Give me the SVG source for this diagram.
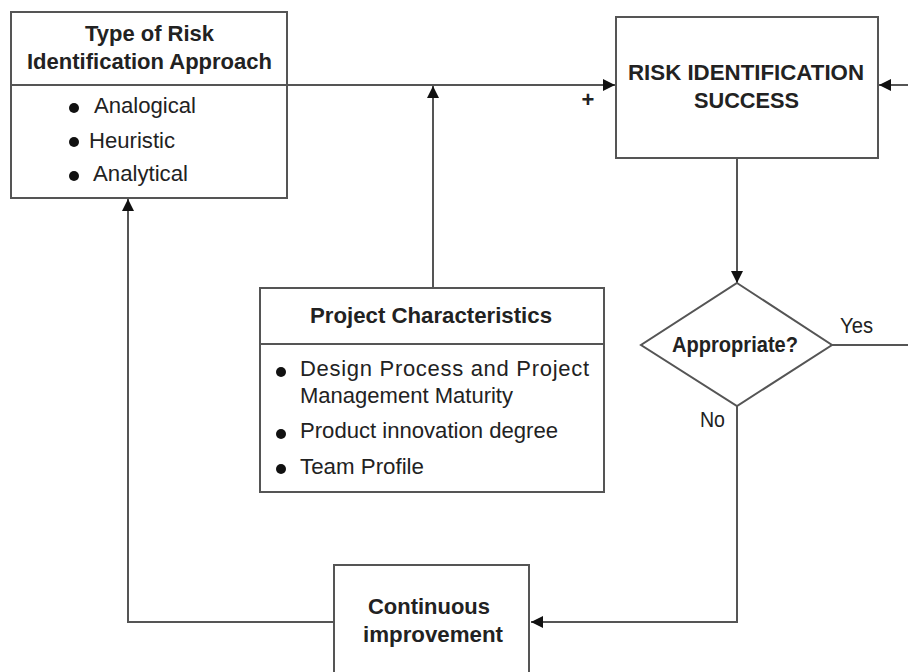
<svg xmlns="http://www.w3.org/2000/svg" width="908" height="672" viewBox="0 0 908 672">
<defs>
<style>
.box{fill:#fff;stroke:#555;stroke-width:2}
.ln{fill:none;stroke:#555;stroke-width:2}
.t{font-family:"Liberation Sans",Arial,sans-serif;font-size:22px;fill:#222}
.b{font-weight:bold}
.dot{fill:#111}
</style>
<marker id="ah" viewBox="0 0 10 10" refX="10" refY="5" markerWidth="12" markerHeight="12" markerUnits="userSpaceOnUse" orient="auto">
<path d="M0,0 L10,5 L0,10 z" fill="#111"/>
</marker>
</defs>
<rect width="908" height="672" fill="#fff"/>
<g id="connectors">
<line class="ln" x1="287" y1="85" x2="615" y2="85" marker-end="url(#ah)"/>
<line class="ln" x1="908" y1="85" x2="879" y2="85" marker-end="url(#ah)"/>
<line class="ln" x1="433" y1="288" x2="433" y2="86" marker-end="url(#ah)"/>
<line class="ln" x1="737" y1="158" x2="737" y2="283" marker-end="url(#ah)"/>
<line class="ln" x1="832" y1="345" x2="908" y2="345"/>
<polyline class="ln" points="737,406 737,622 531,622" marker-end="url(#ah)"/>
<polyline class="ln" points="334,622 128,622 128,199" marker-end="url(#ah)"/>
<text class="t b" x="588" y="107" text-anchor="middle" font-size="20">+</text>
<text class="t" x="840" y="333" font-size="20" textLength="33" lengthAdjust="spacingAndGlyphs">Yes</text>
<text class="t" x="700" y="427" font-size="20" textLength="25" lengthAdjust="spacingAndGlyphs">No</text>
</g>
<g id="type-box">
<rect class="box" x="11" y="12" width="276" height="186"/>
<line class="ln" x1="11" y1="85" x2="287" y2="85"/>
<text class="t b" x="85" y="41" textLength="129" lengthAdjust="spacingAndGlyphs">Type of Risk</text>
<text class="t b" x="27" y="69" textLength="245" lengthAdjust="spacingAndGlyphs">Identification Approach</text>
<circle class="dot" cx="74" cy="108" r="5"/>
<text class="t" x="94" y="113" textLength="102" lengthAdjust="spacingAndGlyphs">Analogical</text>
<circle class="dot" cx="74" cy="142" r="5"/>
<text class="t" x="89" y="148" textLength="86" lengthAdjust="spacingAndGlyphs">Heuristic</text>
<circle class="dot" cx="74" cy="176" r="5"/>
<text class="t" x="93" y="181" textLength="95" lengthAdjust="spacingAndGlyphs">Analytical</text>
</g>
<g id="risk-success">
<rect class="box" x="616" y="17" width="262" height="141"/>
<text class="t b" x="628" y="80" textLength="236" lengthAdjust="spacingAndGlyphs">RISK IDENTIFICATION</text>
<text class="t b" x="694" y="108" textLength="105" lengthAdjust="spacingAndGlyphs">SUCCESS</text>
</g>
<g id="project-characteristics">
<rect class="box" x="260" y="288" width="344" height="204"/>
<line class="ln" x1="260" y1="344" x2="604" y2="344"/>
<text class="t b" x="310" y="323" textLength="242" lengthAdjust="spacingAndGlyphs">Project Characteristics</text>
<circle class="dot" cx="281" cy="372" r="5"/>
<text class="t" x="300" y="376" textLength="289" lengthAdjust="spacing">Design Process and Project</text>
<text class="t" x="300" y="403" textLength="213" lengthAdjust="spacingAndGlyphs">Management Maturity</text>
<circle class="dot" cx="281" cy="434" r="5"/>
<text class="t" x="300" y="438" textLength="258" lengthAdjust="spacingAndGlyphs">Product innovation degree</text>
<circle class="dot" cx="281" cy="469" r="5"/>
<text class="t" x="300" y="474" textLength="124" lengthAdjust="spacingAndGlyphs">Team Profile</text>
</g>
<g id="appropriate">
<polygon class="box" points="737,283 832,345 737,406 641,345"/>
<text class="t b" x="672" y="352" font-size="19" textLength="126" lengthAdjust="spacingAndGlyphs">Appropriate?</text>
</g>
<g id="continuous-improvement">
<rect class="box" x="334" y="565" width="195" height="120"/>
<text class="t b" x="368" y="614" textLength="122" lengthAdjust="spacingAndGlyphs">Continuous</text>
<text class="t b" x="363" y="642" textLength="140" lengthAdjust="spacingAndGlyphs">improvement</text>
</g>
</svg>
